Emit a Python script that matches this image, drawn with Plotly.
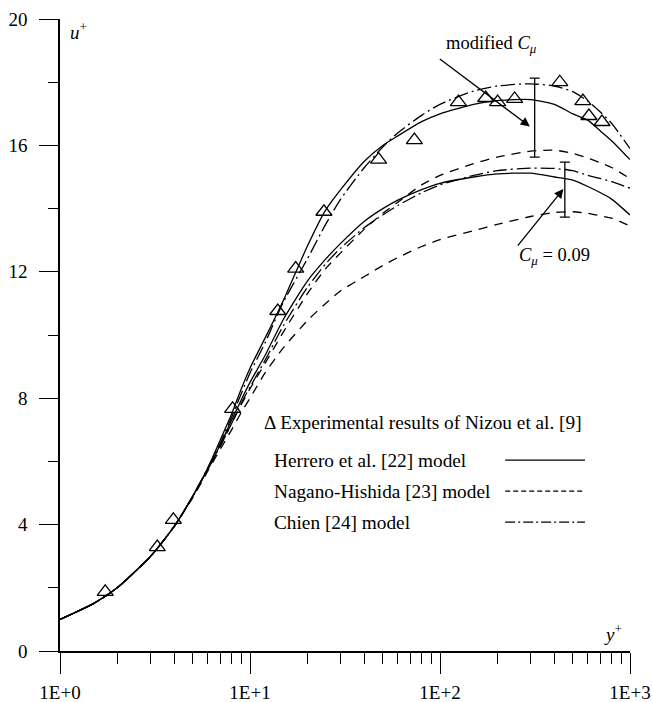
import math
import plotly.graph_objects as go

# ---- data -------------------------------------------------------------
# wall distance y+ at which the model profiles are listed
y_plus = [1, 1.5, 2, 3, 4, 5, 6, 7, 8, 9, 10, 12, 15, 20, 25, 30, 40, 50, 60,
          80, 100, 150, 200, 300, 400, 500, 600, 700, 800, 1000]

# modified C_mu profiles
herrero_mod = [1.0, 1.5, 2.0, 3.0, 3.95, 4.9, 5.8, 6.7, 7.5, 8.3, 8.95, 9.9, 11.1,
               12.8, 13.95, 14.6, 15.5, 16.0, 16.3, 16.75, 17.0, 17.3, 17.42,
               17.45, 17.3, 17.0, 16.8, 16.45, 16.15, 15.55]
nagano_mod = [1.0, 1.5, 2.0, 3.0, 3.95, 4.9, 5.75, 6.5, 7.2, 7.8, 8.3, 9.1, 10.1,
              11.3, 12.1, 12.6, 13.35, 13.85, 14.2, 14.75, 15.05, 15.42, 15.63,
              15.82, 15.85, 15.75, 15.6, 15.45, 15.3, 14.95]
chien_mod = [1.0, 1.5, 2.0, 3.0, 3.95, 4.9, 5.8, 6.6, 7.4, 8.15, 8.8, 9.75, 11.05,
             12.4, 13.5, 14.3, 15.3, 15.95, 16.4, 16.95, 17.3, 17.72, 17.88,
             17.95, 17.88, 17.7, 17.4, 17.05, 16.7, 15.9]

# C_mu = 0.09 profiles
herrero_009 = [1.0, 1.5, 2.0, 3.0, 3.95, 4.9, 5.75, 6.55, 7.3, 7.95, 8.5, 9.35,
               10.5, 11.7, 12.4, 12.9, 13.6, 14.0, 14.27, 14.6, 14.8, 15.0,
               15.1, 15.12, 15.0, 14.9, 14.7, 14.5, 14.3, 13.8]
nagano_009 = [1.0, 1.5, 2.0, 3.0, 3.95, 4.85, 5.7, 6.4, 7.0, 7.55, 8.0, 8.8, 9.6,
              10.45, 11.0, 11.4, 11.85, 12.2, 12.45, 12.8, 13.02, 13.3, 13.5,
              13.75, 13.88, 13.9, 13.85, 13.77, 13.7, 13.45]
chien_009 = [1.0, 1.5, 2.0, 3.0, 3.95, 4.9, 5.75, 6.5, 7.2, 7.85, 8.35, 9.2, 10.3,
             11.5, 12.25, 12.75, 13.4, 13.8, 14.1, 14.5, 14.75, 15.05, 15.2,
             15.28, 15.27, 15.2, 15.05, 14.95, 14.85, 14.65]

# experimental results of Nizou et al.
exp_y = [1.73, 3.25, 3.95, 8.1, 14.0, 17.4, 24.5, 47.5, 73.3, 125, 174, 201,
         247, 427, 565, 608, 712]
exp_u = [1.87, 3.29, 4.15, 7.66, 10.76, 12.1, 13.9, 15.55, 16.17, 17.37, 17.5,
         17.37, 17.47, 18.0, 17.4, 16.93, 16.74]

# spread bars between the two C_mu settings
bar_y = [315, 454]
bar_low = [15.63, 13.73]
bar_high = [18.13, 15.47]

x_ticks = [1, 10, 100, 1000]
x_tick_text = ["1E+0", "1E+1", "1E+2", "1E+3"]
u_ticks = [0, 4, 8, 12, 16, 20]

legend_rows = [
    ("Herrero et al. [22] model", "solid"),
    ("Nagano-Hishida [23] model", "5px,3px"),
    ("Chien [24] model", "10px,3px,2px,3px"),
]

# ---- figure -----------------------------------------------------------
SERIF = "Liberation Serif"
BLACK = "#000000"
fig = go.Figure()

curve_styles = [
    (herrero_mod, "solid"), (chien_mod, "14px,4px,2px,4px"), (nagano_mod, "9px,7px"),
    (herrero_009, "solid"), (chien_009, "14px,4px,2px,4px"), (nagano_009, "9px,7px"),
]
for values, dash in curve_styles:
    fig.add_trace(go.Scatter(
        x=y_plus, y=values, mode="lines",
        line=dict(color=BLACK, width=1.3, dash=dash, shape="spline", smoothing=0.6),
        showlegend=False, hoverinfo="skip"))

fig.add_trace(go.Scatter(
    x=exp_y, y=exp_u, mode="markers",
    marker=dict(symbol="triangle-up-open", size=14, color=BLACK,
                line=dict(color=BLACK, width=1.3)),
    showlegend=False))

mid = [(lo + hi) / 2 for lo, hi in zip(bar_low, bar_high)]
half = [(hi - lo) / 2 for lo, hi in zip(bar_low, bar_high)]
fig.add_trace(go.Scatter(
    x=bar_y, y=mid, mode="markers", marker=dict(size=1, color="rgba(0,0,0,0)"),
    error_y=dict(type="data", array=half, visible=True, color=BLACK,
                 thickness=1.3, width=5),
    showlegend=False, hoverinfo="skip"))

annotations = []

# arrows pointing to the spread bars
for (tx, tu), (hx, hu) in [((98, 18.77), (297, 16.6)), ((253, 12.78), (446, 14.62))]:
    annotations.append(dict(
        x=math.log10(hx), y=hu, ax=math.log10(tx), ay=tu,
        xref="x", yref="y", axref="x", ayref="y", text="",
        showarrow=True, arrowhead=2, arrowsize=1.4, arrowwidth=1.3,
        arrowcolor=BLACK))

annotations.append(dict(
    x=math.log10(187), y=19.2, xref="x", yref="y", showarrow=False,
    text="modified <i>C</i><sub><i>μ</i></sub>",
    font=dict(family=SERIF, size=18.5, color=BLACK)))
annotations.append(dict(
    x=math.log10(402), y=12.5, xref="x", yref="y", showarrow=False,
    text="<i>C</i><sub><i>μ</i></sub> = 0.09",
    font=dict(family=SERIF, size=18.5, color=BLACK)))

# axis names
annotations.append(dict(
    x=0, y=1, xref="paper", yref="paper", xanchor="left", yanchor="top",
    xshift=8, yshift=2, showarrow=False, text="<i>u</i><sup>+</sup>",
    font=dict(family=SERIF, size=19, color=BLACK)))
annotations.append(dict(
    x=1, y=0, xref="paper", yref="paper", xanchor="right", yanchor="bottom",
    xshift=-6, yshift=4, showarrow=False, text="<i>y</i><sup>+</sup>",
    font=dict(family=SERIF, size=19, color=BLACK)))

# hand-placed legend
annotations.append(dict(
    x=0.354, y=0.362, xref="paper", yref="paper", xanchor="left", yanchor="middle",
    showarrow=False, text="Δ Experimental results of Nizou et al. [9]",
    font=dict(family=SERIF, size=19.3, color=BLACK)))

shapes = []
row_y = [0.302, 0.253, 0.204]
for (label, dash), ry in zip(legend_rows, row_y):
    annotations.append(dict(
        x=0.372, y=ry, xref="paper", yref="paper", xanchor="left", yanchor="middle",
        showarrow=False, text=label, font=dict(family=SERIF, size=19.3, color=BLACK)))
    shapes.append(dict(
        type="line", xref="paper", yref="paper", x0=0.781, x1=0.921, y0=ry, y1=ry,
        line=dict(color=BLACK, width=1.3, dash=dash)))

fig.update_layout(
    width=652, height=702,
    margin=dict(l=60, r=22, t=19, b=51),
    paper_bgcolor="white", plot_bgcolor="white",
    font=dict(family=SERIF, size=18, color=BLACK),
    annotations=annotations, shapes=shapes, showlegend=False,
)

fig.update_xaxes(
    type="log", range=[0, 3], showgrid=False, zeroline=False, automargin=False,
    showline=True, linecolor=BLACK, linewidth=1.5,
    ticks="outside", ticklen=21, tickwidth=1.3, tickcolor=BLACK,
    ticklabelstandoff=2,
    tickvals=x_ticks, ticktext=x_tick_text,
    tickfont=dict(family=SERIF, size=19, color=BLACK),
    minor=dict(ticks="outside", ticklen=11, tickwidth=1.3, tickcolor=BLACK,
               dtick="D1", showgrid=False),
)
fig.update_yaxes(
    range=[0, 20], showgrid=False, zeroline=False, automargin=False,
    showline=True, linecolor=BLACK, linewidth=1.5,
    ticks="outside", ticklen=19, tickwidth=1.3, tickcolor=BLACK,
    ticklabelstandoff=8,
    tickvals=u_ticks,
    tickfont=dict(family=SERIF, size=19, color=BLACK),
    minor=dict(ticks="outside", ticklen=10, tickwidth=1.3, tickcolor=BLACK,
               dtick=2, showgrid=False),
)

fig.write_html("out.html")
